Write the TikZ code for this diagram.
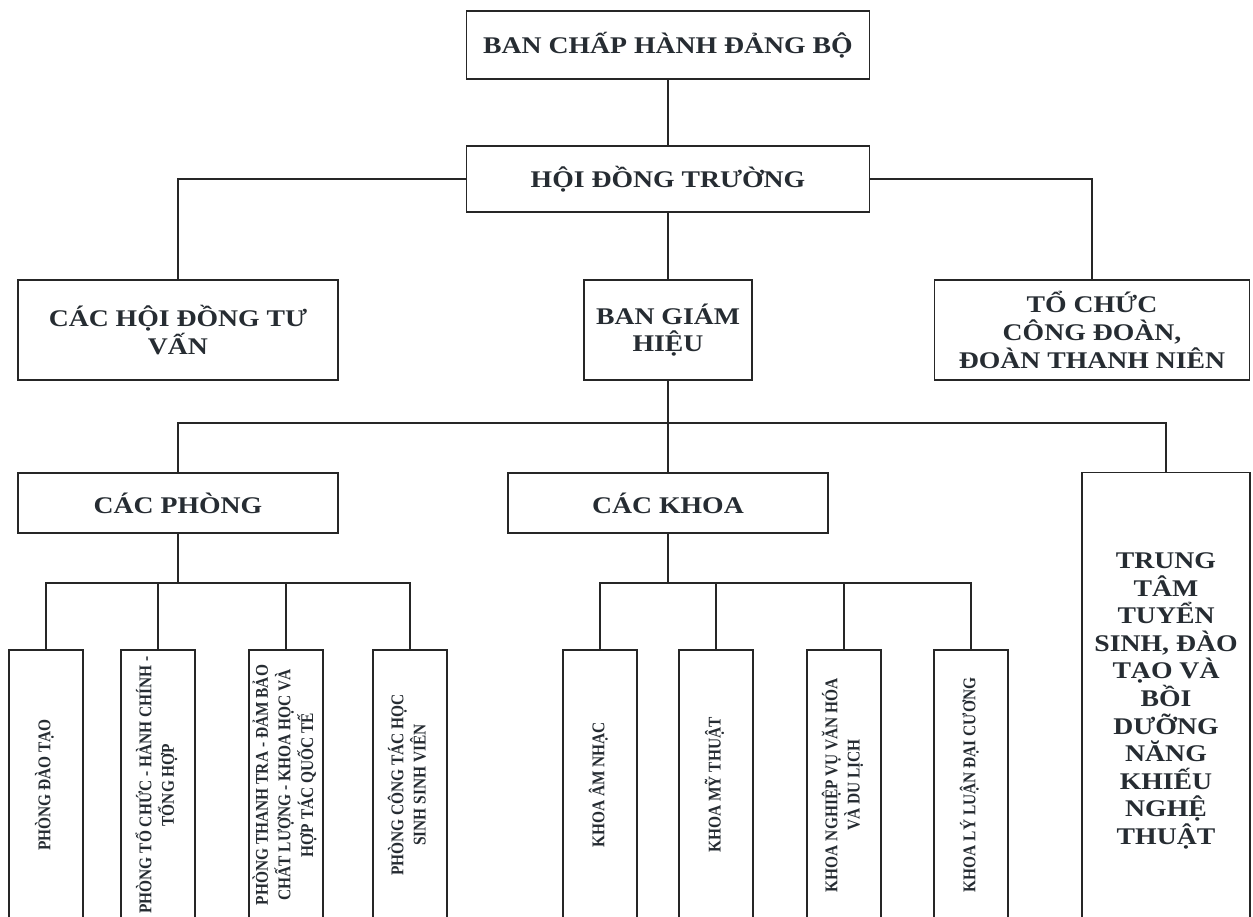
\documentclass[tikz,border=0pt]{standalone}
\usepackage{fontspec}
\usepackage{graphicx}
\setmainfont{Liberation Serif}
\newfontfamily\widefont[FakeStretch=1.16]{Liberation Serif}
\newfontfamily\narrowfont[FakeStretch=0.86]{Liberation Serif}
\definecolor{ink}{RGB}{38,44,50}
\newcommand{\vlabel}[1]{\rotatebox{90}{\narrowfont\bfseries\fontsize{10.2}{12.6}\selectfont\begin{tabular}{@{}c@{}}#1\end{tabular}}}

\begin{document}
\begin{tikzpicture}[x=0.02cm, y=-0.02cm,
    box/.style={draw=black!85, line width=0.9pt, rectangle, inner sep=0pt, align=center, text=ink,
        font=\widefont\bfseries\fontsize{13.6}{15.7}\selectfont},
    vbox/.style={box, minimum width=1.48cm, minimum height=5.4cm},
    link/.style={draw=black!85, line width=1.3pt}]
    \useasboundingbox (0,0) rectangle (1253,916);
    \clip (0,0) rectangle (1253,916);
    % upper part
    \node[box, minimum width=8.06cm, minimum height=1.36cm] (bch) at (668,45) {BAN CHẤP HÀNH ĐẢNG BỘ};
    \node[box, minimum width=8.06cm, minimum height=1.32cm] (hdt) at (668,179) {HỘI ĐỒNG TRƯỜNG};
    \node[box, minimum width=6.4cm, minimum height=2cm] (tuvan) at (178,330) {CÁC HỘI ĐỒNG TƯ\\VẤN};
    \node[box, minimum width=3.36cm, minimum height=2cm] (bgh) at (668,330) {BAN GIÁM\\HIỆU};
    \node[box, minimum width=6.3cm, minimum height=2cm] (congdoan) at (1092,330) {TỔ CHỨC\\CÔNG ĐOÀN,\\ĐOÀN THANH NIÊN};
    % middle part
    \node[box, minimum width=6.4cm, minimum height=1.2cm] (phong) at (178,503) {CÁC PHÒNG};
    \node[box, minimum width=6.4cm, minimum height=1.2cm] (khoa) at (668,503) {CÁC KHOA};
    \node[box, minimum width=3.36cm, minimum height=9.14cm] (trungtam) at (1166,701) {TRUNG\\TÂM\\TUYỂN\\SINH, ĐÀO\\TẠO VÀ\\BỒI\\DƯỠNG\\NĂNG\\KHIẾU\\NGHỆ\\THUẬT};
    % the offices
    \node[vbox] (p1) at (46,785) {\vlabel{PHÒNG ĐÀO TẠO}};
    \node[vbox] (p2) at (158,785) {\vlabel{PHÒNG TỔ CHỨC - HÀNH CHÍNH -\\TỔNG HỢP}};
    \node[vbox] (p3) at (286,785) {\vlabel{PHÒNG THANH TRA - ĐẢM BẢO\\CHẤT LƯỢNG - KHOA HỌC VÀ\\HỢP TÁC QUỐC TẾ}};
    \node[vbox, line width=1.2pt] (p4) at (410,785) {\vlabel{PHÒNG CÔNG TÁC HỌC\\SINH SINH VIÊN}};
    % the faculties
    \node[vbox] (k1) at (600,785) {\vlabel{KHOA ÂM NHẠC}};
    \node[vbox] (k2) at (716,785) {\vlabel{KHOA MỸ THUẬT}};
    \node[vbox] (k3) at (844,785) {\vlabel{KHOA NGHIỆP VỤ VĂN HÓA\\VÀ DU LỊCH}};
    \node[vbox] (k4) at (971,785) {\vlabel{KHOA LÝ LUẬN ĐẠI CƯƠNG}};
    % connectors
    \coordinate (bus) at (668,423);
    \coordinate (pbus) at (178,583);
    \coordinate (kbus) at (668,583);
    \draw[link] (bch) -- (hdt);
    \draw[link] (hdt.west) -| (tuvan.north);
    \draw[link] (hdt.east) -| (congdoan.north);
    \draw[link] (hdt) -- (bgh);
    \draw[link] (bgh.south) -- (bus);
    \draw[link] (phong.north) |- (bus) -| (trungtam.north);
    \draw[link] (bus) -- (khoa.north);
    \draw[link] (phong.south) -- (pbus);
    \draw[link] (khoa.south) -- (kbus);
    \foreach \n in {p1,p2,p3,p4}
        \draw[link] (\n.north) |- (pbus);
    \foreach \n in {k1,k2,k3,k4}
        \draw[link] (\n.north) |- (kbus);
\end{tikzpicture}
\end{document}
